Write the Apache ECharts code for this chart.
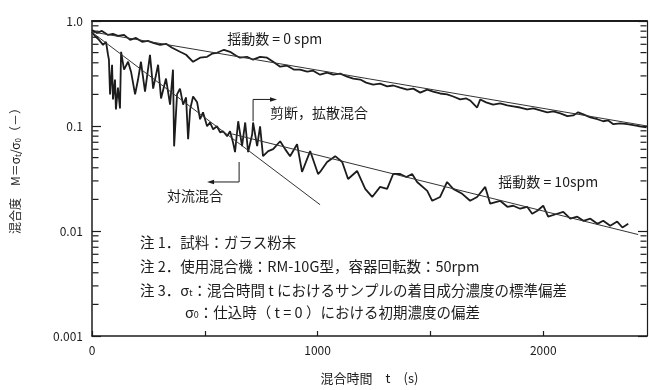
<!DOCTYPE html>
<html><head><meta charset="utf-8">
<script src="https://cdn.jsdelivr.net/npm/echarts@6/dist/echarts.min.js"></script>
<style>html,body{margin:0;padding:0;background:#fff}#c{width:650px;height:390px}</style>
</head><body><div id="c"></div>
<script>
// ---- data (t in s, M = σt/σ0) ----
const t0spm = [0,22,44,71,93,115,142,169,195,222,248,271,302,328,355,390,417,448,479,510,532,554,585,612,639,656,687,714,745,776,803,834,865,896,922,954,980,1011,1042,1069,1100,1131,1158,1189,1215,1246,1277,1308,1335,1366,1397,1424,1455,1486,1512,1543,1574,1601,1632,1659,1676,1707,1721,1747,1778,1809,1841,1867,1898,1929,1956,1987,2018,2045,2076,2107,2133,2155,2178,2209,2240,2266,2288,2311,2342,2373,2399,2430,2458];
const m0spm = [0.822,0.770,0.804,0.737,0.753,0.721,0.737,0.661,0.690,0.633,0.647,0.619,0.593,0.606,0.556,0.509,0.477,0.409,0.447,0.456,0.488,0.498,0.532,0.509,0.467,0.447,0.456,0.428,0.456,0.447,0.409,0.367,0.375,0.344,0.344,0.329,0.336,0.308,0.322,0.308,0.315,0.295,0.283,0.277,0.259,0.248,0.253,0.238,0.243,0.232,0.222,0.227,0.208,0.222,0.213,0.204,0.200,0.191,0.179,0.183,0.175,0.150,0.179,0.168,0.160,0.164,0.157,0.154,0.150,0.144,0.147,0.141,0.135,0.138,0.132,0.124,0.126,0.135,0.129,0.121,0.116,0.111,0.113,0.104,0.106,0.104,0.102,0.0994,0.0972];

const t10spm = [0,13,31,49,62,71,75,80,89,93,102,106,115,124,129,142,160,173,191,204,217,235,257,271,293,306,328,346,359,364,377,390,404,417,426,435,448,466,479,492,510,523,537,554,568,581,599,612,625,634,648,665,679,692,710,714,732,745,758,781,803,834,856,878,909,931,967,1002,1011,1042,1078,1109,1135,1175,1211,1242,1277,1308,1335,1366,1393,1419,1441,1486,1508,1543,1574,1601,1641,1676,1707,1743,1765,1809,1841,1867,1898,1929,1951,1974,2000,2022,2062,2089,2120,2151,2178,2209,2240,2266,2297,2328,2351,2377];
const m10spm = [0.787,0.721,0.661,0.593,0.633,0.477,0.428,0.200,0.383,0.179,0.277,0.144,0.232,0.147,0.509,0.344,0.409,0.329,0.200,0.277,0.409,0.213,0.477,0.227,0.383,0.183,0.283,0.160,0.344,0.064,0.200,0.227,0.160,0.187,0.0748,0.144,0.191,0.168,0.116,0.135,0.0994,0.108,0.0931,0.0994,0.0871,0.0891,0.0799,0.0891,0.0701,0.0564,0.111,0.0643,0.108,0.0564,0.0834,0.108,0.0643,0.0994,0.0516,0.0577,0.0602,0.0716,0.0602,0.0516,0.0671,0.0365,0.0577,0.0349,0.0365,0.0454,0.0516,0.0454,0.0313,0.0373,0.0252,0.0211,0.0263,0.0252,0.0349,0.0349,0.0327,0.0349,0.0293,0.0241,0.0194,0.0211,0.0293,0.0252,0.0226,0.0194,0.0211,0.0263,0.0182,0.0194,0.0170,0.0174,0.0163,0.0170,0.0146,0.0156,0.0174,0.0137,0.0146,0.0152,0.0131,0.0137,0.0125,0.0131,0.0117,0.0125,0.0112,0.0123,0.0108,0.0117];

// fitted straight lines
const trend0T = [0, 2460];        const trend0M = [0.787, 0.100];
const convT = [0, 1011];          const convM = [0.78, 0.0178];
const shearT = [621, 2421];       const shearM = [0.084, 0.00925];

// axis ticks / labels
const xLabelValues = [0, 1000, 2000];
const yTickValues = [0.001, 0.01, 0.1, 1];
const yTickLabels = ['0.001', '0.01', '0.1', '1.0'];
const yMinorTicks = [0.002,0.003,0.004,0.005,0.006,0.007,0.008,0.009,0.02,0.03,0.04,0.05,0.06,0.07,0.08,0.09,0.2,0.3,0.4,0.5,0.6,0.7,0.8,0.9];

// annotations (data coordinates)
const annotText = ['揺動数 = 0 spm', '揺動数 = 10spm', '剪断，拡散混合', '対流混合'];
const annotT = [599, 1801, 789, 581];
const annotM = [0.676, 0.0293, 0.135, 0.0216];
const annotAlign = ['left', 'left', 'left', 'right'];
const bracketShearT = [714, 714, 820];  const bracketShearM = [0.111, 0.179, 0.179];
const bracketConvT = [652, 652, 510];   const bracketConvM = [0.0454, 0.0293, 0.0293];

const notes = ['注 1．試料：ガラス粉末', '注 2．使用混合機：RM-10G型，容器回転数：50rpm', '注 3．σ{s|t}：混合時間 t におけるサンプルの着目成分濃度の標準偏差', 'σ{s|0}：仕込時（ t = 0 ）における初期濃度の偏差'];

// ---- chart ----
const X_MAX = 2460;
const INK = '#1c1c1c';
const FONT = '"Noto Sans CJK JP", "Noto Sans", sans-serif';
const zip = (a, b) => a.map((v, i) => [v, b[i]]);

const chart = echarts.init(document.getElementById('c'));

function bracketItem(ts, ms) { return [ts[0], ms[0], ts[1], ms[1], ts[2], ms[2]]; }
const subRich = {s: {fontSize: 9, fontFamily: FONT, fill: INK, padding: [6, 0, 0, 0]}};
const noteStyle = (txt) => ({text: txt, rich: subRich, fill: INK, fontSize: 14.5, fontFamily: FONT, verticalAlign: 'middle'});

const baseGraphic = [
  {type: 'text', x: 15, y: 168, rotation: Math.PI / 2,
    style: {text: '混合度　M＝σ{s|t}/σ{s|0}（－）', rich: {s: {fontSize: 8, fontFamily: FONT, fill: INK, padding: [5, 0, 0, 0]}}, fill: INK, fontSize: 12, fontFamily: FONT, align: 'center', verticalAlign: 'middle'}},
  {type: 'text', x: 140, y: 242, style: noteStyle(notes[0])},
  {type: 'text', x: 140, y: 266, style: noteStyle(notes[1])},
  {type: 'text', x: 140, y: 290, style: noteStyle(notes[2])},
  {type: 'text', x: 185, y: 312, style: noteStyle(notes[3])}
];

chart.setOption({
  animation: false,
  backgroundColor: '#ffffff',
  grid: {left: 92, right: 3, top: 21, bottom: 52},
  xAxis: [{
    type: 'value', min: 0, max: X_MAX, interval: 500,
    axisLine: {lineStyle: {color: INK, width: 1.5}},
    axisTick: {show: true, inside: true, length: 5, lineStyle: {color: INK, width: 1.2}},
    axisLabel: {color: INK, fontSize: 12, fontFamily: FONT, margin: 8, showMaxLabel: false,
      formatter: v => xLabelValues.indexOf(v) >= 0 ? String(v) : ''},
    splitLine: {show: false},
    name: '混合時間　t　(s)', nameLocation: 'middle', nameGap: 36,
    nameTextStyle: {color: INK, fontSize: 13, fontFamily: FONT}
  }, {
    type: 'value', min: 0, max: X_MAX, position: 'top',
    axisLine: {onZero: false, lineStyle: {color: INK, width: 1.8}},
    axisTick: {show: false}, axisLabel: {show: false}, splitLine: {show: false}
  }],
  yAxis: [{
    type: 'log', logBase: 10, min: 0.001, max: 1,
    axisLine: {show: true, onZero: false, lineStyle: {color: INK, width: 1.5}},
    axisTick: {show: true, inside: true, length: 9, lineStyle: {color: INK, width: 1.2}},
    axisLabel: {color: INK, fontSize: 12, fontFamily: FONT, margin: 9,
      formatter: v => { const e = Math.round(Math.log10(v)); const i = yTickValues.findIndex(x => Math.round(Math.log10(x)) === e); return i >= 0 ? yTickLabels[i] : ''; }},
    splitLine: {show: false}
  }, {
    type: 'log', logBase: 10, min: 0.001, max: 1, position: 'right',
    axisLine: {show: true, onZero: false, lineStyle: {color: INK, width: 1.2}},
    axisTick: {show: true, inside: true, length: 9, lineStyle: {color: INK, width: 1.2}},
    axisLabel: {show: false}, splitLine: {show: false}
  }],
  series: [
    {type: 'line', data: zip(t0spm, m0spm), symbol: 'none', lineStyle: {color: INK, width: 1.8}},
    {type: 'line', data: zip(t10spm, m10spm), symbol: 'none', lineStyle: {color: INK, width: 1.8}},
    {type: 'line', data: zip(trend0T, trend0M), symbol: 'none', lineStyle: {color: '#333', width: 1}},
    {type: 'line', data: zip(convT, convM), symbol: 'none', lineStyle: {color: '#333', width: 1}},
    {type: 'line', data: zip(shearT, shearM), symbol: 'none', lineStyle: {color: '#333', width: 1}},
    { // minor log ticks on the right frame
      type: 'custom', z: 10, silent: true,
      data: yMinorTicks.map(v => [X_MAX, v]),
      encode: {x: 0, y: 1},
      renderItem: (params, api) => {
        const p = api.coord([api.value(0), api.value(1)]);
        return {type: 'rect', shape: {x: p[0] - 6.5, y: p[1] - 0.6, width: 6, height: 1.2}, style: {fill: INK}};
      }
    },
    { // bracket arrows
      type: 'custom', silent: true,
      data: [bracketItem(bracketShearT, bracketShearM), bracketItem(bracketConvT, bracketConvM)],
      encode: {x: [0, 2, 4], y: [1, 3, 5]},
      renderItem: (params, api) => {
        const p1 = api.coord([api.value(0), api.value(1)]);
        const p2 = api.coord([api.value(2), api.value(3)]);
        const p3 = api.coord([api.value(4), api.value(5)]);
        const d = Math.sign(p3[0] - p2[0]);
        return {type: 'group', children: [
          {type: 'polyline', shape: {points: [p1, p2, [p3[0] - d * 5, p3[1]]]}, style: {stroke: INK, lineWidth: 1, fill: null}},
          {type: 'polygon', shape: {points: [[p3[0], p3[1]], [p3[0] - d * 7, p3[1] - 2.2], [p3[0] - d * 7, p3[1] + 2.2]]}, style: {fill: INK}}
        ]};
      }
    },
    { // text annotations
      type: 'custom', silent: true,
      data: annotT.map((t, i) => [t, annotM[i], i]),
      encode: {x: 0, y: 1},
      renderItem: (params, api) => {
        const p = api.coord([api.value(0), api.value(1)]);
        const i = api.value(2);
        return {type: 'text', x: p[0], y: p[1], style: {text: annotText[i], fill: INK, fontSize: 14, fontFamily: FONT, align: annotAlign[i], verticalAlign: 'middle'}};
      }
    }
  ],
  graphic: baseGraphic
});

// left minor ticks: positions taken from the chart's own log scale
const leftTicks = yMinorTicks.map(v => {
  const p = chart.convertToPixel({xAxisIndex: 0, yAxisIndex: 0}, [0, v]);
  return {type: 'rect', z: 100, silent: true,
    shape: {x: p[0] + 0.5, y: p[1] - 0.6, width: 6, height: 1.2},
    style: {fill: INK}};
});
chart.setOption({graphic: baseGraphic.concat(leftTicks)});
</script>
</body></html>
